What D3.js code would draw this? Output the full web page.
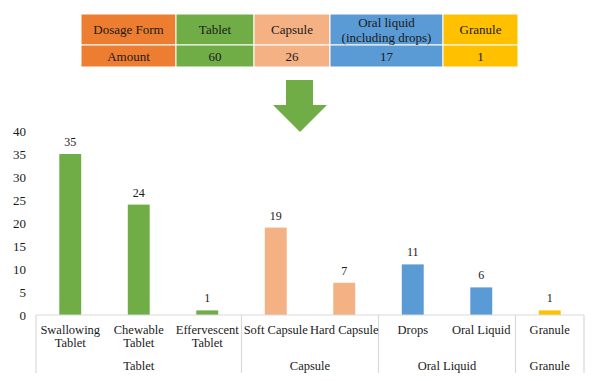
<!DOCTYPE html>
<html>
<head>
<meta charset="utf-8">
<script src="https://cdn.jsdelivr.net/npm/d3@7"></script>
<style>
  body { margin: 0; background: #fff; }
</style>
</head>
<body>
<svg id="chart" width="595" height="381"></svg>
<script>
// summary table
const tableHeaders = ["Dosage Form", "Tablet", "Capsule", "Oral liquid\n(including drops)", "Granule"];
const tableAmounts = ["Amount", 60, 26, 17, 1];
const tableColors = ["#ED7D31", "#70AD47", "#F4B183", "#5B9BD5", "#FFC000"];
const tableEdges = [81, 176, 254, 330, 443, 518];

// bar chart
const categories = ["Swallowing\nTablet", "Chewable\nTablet", "Effervescent\nTablet", "Soft Capsule", "Hard Capsule", "Drops", "Oral Liquid", "Granule"];
const values = [35, 24, 1, 19, 7, 11, 6, 1];
const groupOf = ["Tablet", "Tablet", "Tablet", "Capsule", "Capsule", "Oral Liquid", "Oral Liquid", "Granule"];
const groups = ["Tablet", "Capsule", "Oral Liquid", "Granule"];
const groupColors = {"Tablet": "#70AD47", "Capsule": "#F4B183", "Oral Liquid": "#5B9BD5", "Granule": "#FFC000"};
const yTicks = [0, 5, 10, 15, 20, 25, 30, 35, 40];

const FONT = '"Liberation Serif"';
const svg = d3.select("#chart");

function label(g, tx, ty, str, size, anchor) {
    return g.append("text")
        .attr("x", tx).attr("y", ty)
        .attr("text-anchor", anchor || "middle")
        .style("font-family", FONT)
        .style("font-size", size + "px")
        .style("fill", "#1a1a1a")
        .text(str);
}

// ---- table ----
const tg = svg.append("g").attr("class", "table");
const rowY = [14, 45, 67];
for (let i = 0; i < tableHeaders.length; i++) {
    let x0 = tableEdges[i], x1 = tableEdges[i+1];
    for (let r = 0; r < 2; r++) {
        tg.append("rect")
            .attr("x", x0).attr("y", rowY[r])
            .attr("width", x1 - x0).attr("height", rowY[r+1] - rowY[r])
            .attr("fill", tableColors[i])
            .attr("stroke", "#fff").attr("stroke-width", 1);
    }
    let lines = String(tableHeaders[i]).split("\n");
    let cy = (rowY[0] + rowY[1]) / 2;
    lines.forEach((ln, k) => {
        label(tg, (x0 + x1) / 2, cy + (k - (lines.length - 1) / 2) * 15 + 4.5, ln, 13);
    });
    label(tg, (x0 + x1) / 2, (rowY[1] + rowY[2]) / 2 + 4.5, tableAmounts[i], 13);
}

// ---- arrow ----
svg.append("path")
    .attr("d", "M286,80 L313,80 L313,105 L327,105 L300,132 L273,105 L286,105 Z")
    .attr("fill", "#70AD47");

// ---- bars ----
const x = d3.scaleBand().domain(d3.range(categories.length)).range([36, 584]).paddingInner(0.68).paddingOuter(0.34);
const y = d3.scaleLinear().domain([0, 40]).range([315, 131]);

const yAxis = svg.append("g");
yTicks.forEach(d => label(yAxis, 26, y(d) + 4.5, d, 13, "end"));

svg.append("g").selectAll("rect").data(values).enter().append("rect")
    .attr("x", (d, i) => x(i))
    .attr("y", d => y(d))
    .attr("width", x.bandwidth())
    .attr("height", d => y(0) - y(d))
    .attr("fill", (d, i) => groupColors[groupOf[i]]);

const vl = svg.append("g");
values.forEach((d, i) => label(vl, x(i) + x.bandwidth() / 2, y(d) - 8, d, 12));

// axis line + group separators
const step = x.step();
svg.append("line")
    .attr("x1", 36).attr("x2", 584).attr("y1", y(0)).attr("y2", y(0))
    .attr("stroke", "#d9d9d9").attr("stroke-width", 1.2);

let bounds = [0];
groups.forEach(g => bounds.push(bounds[bounds.length-1] + groupOf.filter(v => v == g).length));
bounds.forEach(b => {
    let bx = 36 + b * step;
    svg.append("line")
        .attr("x1", bx).attr("x2", bx).attr("y1", y(0)).attr("y2", 373)
        .attr("stroke", "#d9d9d9").attr("stroke-width", 1.2);
});

// category labels
const cl = svg.append("g");
categories.forEach((c, i) => {
    c.split("\n").forEach((ln, k) => {
        label(cl, x(i) + x.bandwidth() / 2, 334 + k * 13, ln, 12.5);
    });
});

// group labels
const gl = svg.append("g");
groups.forEach((g, gi) => {
    let cx = 36 + (bounds[gi] + bounds[gi+1]) / 2 * step;
    label(gl, cx, 370, g, 12.5);
});
</script>
</body>
</html>
